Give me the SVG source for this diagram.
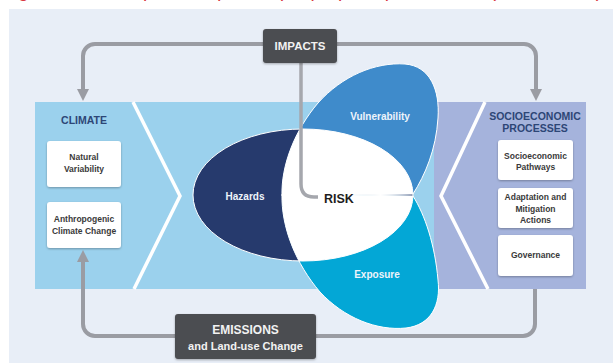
<svg xmlns="http://www.w3.org/2000/svg" width="613" height="363" viewBox="0 0 613 363">
<style>
  text { font-family: "Liberation Sans", Arial, sans-serif; font-weight: bold; text-anchor: middle; }
  .box { fill: #ffffff; filter: url(#sh); }
  .dark { fill: #4c4d51; filter: url(#sh); }
  .btxt { font-size: 8.5px; fill: #3a3a3a; }
  .head { font-size: 10.5px; fill: #2d4676; }
  .lobe { font-size: 10px; fill: #eef4fb; }
  .dtxt { fill: #f2f2f2; }
  .conn { fill: none; stroke: #9a9ca3; stroke-width: 4; }
  .arrow { fill: #9a9ca3; }
  .chev { fill: none; stroke: #ffffff; stroke-width: 3.5; stroke-linejoin: miter; }
  .edge { fill: none; stroke: #ffffff; stroke-width: 1; }
</style>
<defs>
  <filter id="sh" x="-20%" y="-20%" width="140%" height="150%">
    <feDropShadow dx="0" dy="1" stdDeviation="1.2" flood-color="#000" flood-opacity="0.3"/>
  </filter>
  <clipPath id="hazClip">
    <ellipse cx="303" cy="195" rx="110" ry="66"/>
  </clipPath>
  <path id="vulShape" d="M282,196 C281,165 295,130 318,103 C342,76 375,62 405,64 C430,66 440,90 438,118 C436,150 425,175 413,194 Z"/>
  <path id="expShape" d="M282,194 C281,227 296,264 320,292 C344,318 377,331 406,328 C431,325 441,305 438,280 C435,245 425,215 413,196 Z"/>
</defs>

<text x="302" y="-3" style="font-size:20px; font-weight:normal; fill:#d9383f; text-anchor:middle;" textLength="600" lengthAdjust="spacingAndGlyphs">Figure 1 : Concept de risque tel que proposé par le GIEC (GIEC, 2014)</text>

<rect x="9" y="9" width="604" height="354" fill="#e8eef7"/>

<g id="climate-band">
  <rect x="35" y="102" width="400" height="187" fill="#9bd1ed"/>
</g>
<g id="socio-band">
  <rect x="434" y="102" width="152" height="187" fill="#a5b3dc"/>
</g>
<polyline class="chev" points="133,102 180,196 134,289"/>
<polyline class="chev" points="485,102 441,196 488,289"/>

<g id="connectors">
  <path class="conn" d="M83,91 V56 A12,12 0 0 1 95,44 H524 A12,12 0 0 1 536,56 V91"/>
  <polygon class="arrow" points="77,89 89,89 83,101"/>
  <polygon class="arrow" points="530,89 542,89 536,101"/>
  <path class="conn" d="M535,289 V324 A12,12 0 0 1 523,336 H95 A12,12 0 0 1 83,324 V262"/>
  <polygon class="arrow" points="77,262 89,262 83,250"/>
</g>

<g id="hazards">
  <ellipse cx="303" cy="195" rx="110" ry="66" fill="#263a6d"/>
</g>
<g id="vulnerability">
  <use href="#vulShape" fill="#3f8bcb"/>
</g>
<g id="exposure">
  <use href="#expShape" fill="#03a7d6"/>
</g>
<g id="risk">
  <g clip-path="url(#hazClip)">
    <use href="#vulShape" fill="#ffffff"/>
    <use href="#expShape" fill="#ffffff"/>
  </g>
  <ellipse class="edge" cx="303" cy="195" rx="110" ry="66"/>
  <use href="#vulShape" class="edge"/>
  <use href="#expShape" class="edge"/>
</g>

<g id="impacts-link">
  <path d="M301,63 V184 Q301,197 314,197 H318" fill="none" stroke="#a5a7ad" stroke-width="3.5"/>
</g>

<text x="245" y="199.5" class="lobe">Hazards</text>
<text x="380" y="119.5" class="lobe">Vulnerability</text>
<text x="377" y="277.5" class="lobe">Exposure</text>
<text x="324" y="202.5" style="font-size:12.5px; fill:#1e1e1e; text-anchor:start;">RISK</text>

<g id="climate">
  <text x="84" y="124" class="head">CLIMATE</text>
</g>
<g id="natural-variability">
  <rect class="box" x="47" y="141" width="74" height="46" rx="3"/>
  <text x="84" y="160" class="btxt">Natural</text>
  <text x="84" y="172" class="btxt">Variability</text>
</g>
<g id="anthropogenic">
  <rect class="box" x="47" y="202" width="74" height="46" rx="3"/>
  <text x="84" y="222" class="btxt">Anthropogenic</text>
  <text x="84" y="234" class="btxt">Climate Change</text>
</g>

<g id="socioeconomic">
  <text x="535" y="120" class="head">SOCIOECONOMIC</text>
  <text x="535" y="132" class="head">PROCESSES</text>
</g>
<g id="pathways">
  <rect class="box" x="498" y="140" width="75" height="40" rx="3"/>
  <text x="535.5" y="159" class="btxt">Socioeconomic</text>
  <text x="535.5" y="170" class="btxt">Pathways</text>
</g>
<g id="adaptation">
  <rect class="box" x="498" y="188" width="75" height="40" rx="3"/>
  <text x="535.5" y="200" class="btxt">Adaptation and</text>
  <text x="535.5" y="211.5" class="btxt">Mitigation</text>
  <text x="535.5" y="223" class="btxt">Actions</text>
</g>
<g id="governance">
  <rect class="box" x="498" y="235" width="75" height="41" rx="3"/>
  <text x="535.5" y="258" class="btxt">Governance</text>
</g>

<g id="impacts">
  <rect class="dark" x="263" y="29" width="74" height="34" rx="3"/>
  <text x="300" y="50" class="dtxt" style="font-size:11.5px;">IMPACTS</text>
</g>
<g id="emissions">
  <rect class="dark" x="175" y="314" width="141" height="45" rx="3"/>
  <text x="245.5" y="333.5" class="dtxt" style="font-size:12px;">EMISSIONS</text>
  <text x="245.5" y="349.5" class="dtxt" style="font-size:11px;">and Land-use Change</text>
</g>
</svg>
